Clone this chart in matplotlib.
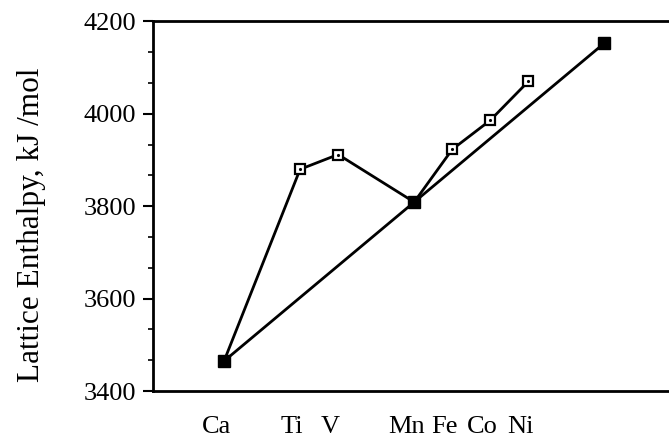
import numpy as np
import matplotlib
matplotlib.use('Agg')
from matplotlib import pyplot as plt
from matplotlib.ticker import MultipleLocator
import matplotlib.transforms as mtransforms

# atomic numbers used as x positions
elements = ['Ca', 'Ti', 'V', 'Mn', 'Fe', 'Co', 'Ni']
z_all = [20, 22, 23, 25, 26, 27, 28]
h_all = [3465, 3880, 3912, 3809, 3923, 3986, 4070]

# straight reference line (d0, d5, d10)
z_ref = [20, 25, 30]
h_ref = [3465, 3809, 4153]

# open-square points
z_open = [22, 23, 26, 27, 28]
h_open = [3880, 3912, 3923, 3986, 4070]

plt.rcParams['font.family'] = ['Liberation Serif', 'DejaVu Serif']

fig = plt.figure(figsize=(6.69, 4.37), dpi=100)
ax = fig.add_axes([0.228, 0.105, 0.772, 0.846])

ax.plot(z_all, h_all, color='black', lw=2.0, zorder=2)
ax.plot(z_ref, h_ref, color='black', lw=2.0, marker='s', ms=9,
        mfc='black', mec='black', zorder=3)
ax.plot(z_open, h_open, ls='none', marker='s', ms=7.5, mfc='white',
        mec='black', mew=1.6, zorder=4)
ax.plot(z_open, h_open, ls='none', marker='.', ms=2.5, color='black', zorder=5)

ax.set_xlim(18.12, 31.7)
ax.set_ylim(3400, 4200)

ax.yaxis.set_major_locator(MultipleLocator(200))
ax.yaxis.set_minor_locator(MultipleLocator(200 / 3))
ax.tick_params(axis='y', which='major', direction='out', length=7, width=1.5,
               labelsize=19, pad=5)
ax.tick_params(axis='y', which='minor', direction='out', length=3.5, width=1.2)

ax.set_xticks(z_all)
ax.set_xticklabels(elements, fontsize=19)
ax.tick_params(axis='x', length=0, pad=18)
offset = mtransforms.ScaledTranslation(-0.08, 0, fig.dpi_scale_trans)
for lbl in ax.get_xticklabels():
    lbl.set_transform(lbl.get_transform() + offset)

ax.set_ylabel('Lattice Enthalpy, kJ /mol', fontsize=22.5)
ax.yaxis.set_label_coords(-0.207, 0.45)

for side in ['left', 'top', 'bottom']:
    ax.spines[side].set_linewidth(2.0)
ax.spines['right'].set_visible(False)

fig.savefig('out.png', dpi=100)
